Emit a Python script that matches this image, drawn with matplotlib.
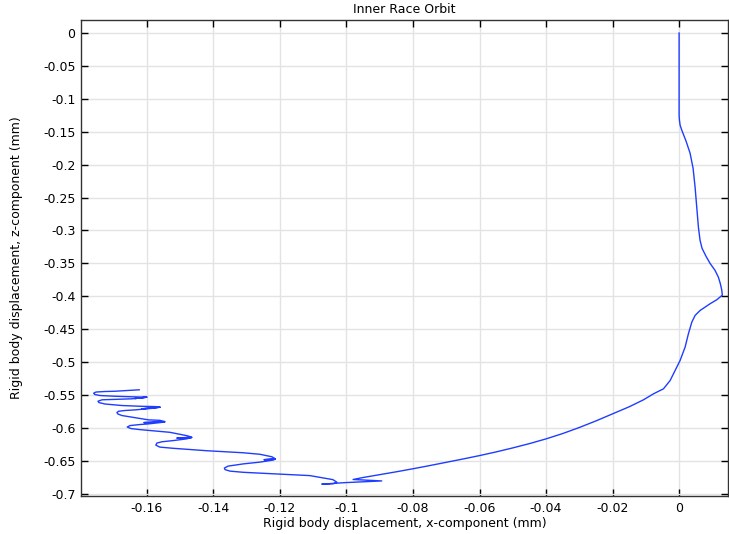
import matplotlib
matplotlib.use("Agg")
import matplotlib.pyplot as plt

plt.rcParams['font.family'] = ['DejaVu Sans']
plt.rcParams['axes.unicode_minus'] = False

title = "Inner Race Orbit"
x_label = "Rigid body displacement, x-component (mm)"
y_label = "Rigid body displacement, z-component (mm)"

x_ticks = [-0.16, -0.14, -0.12, -0.1, -0.08, -0.06, -0.04, -0.02, 0]
x_tick_labels = ["-0.16", "-0.14", "-0.12", "-0.1", "-0.08", "-0.06", "-0.04", "-0.02", "0"]
y_ticks = [0, -0.05, -0.1, -0.15, -0.2, -0.25, -0.3, -0.35, -0.4, -0.45, -0.5, -0.55, -0.6, -0.65, -0.7]
y_tick_labels = ["0", "-0.05", "-0.1", "-0.15", "-0.2", "-0.25", "-0.3", "-0.35", "-0.4",
                 "-0.45", "-0.5", "-0.55", "-0.6", "-0.65", "-0.7"]

# orbit of the inner race (x, z displacement in mm) in time order
orbit_x = [0, 0, 0, 0.0001, 0.0003, 0.0008, 0.0021, 0.0033, 0.0042, 0.0048, 0.0054, 0.0058,
           0.0063, 0.0069, 0.0081, 0.0093, 0.0108, 0.0118, 0.0124, 0.0128, 0.0130, 0.0121,
           0.01134, 0.00932, 0.00632, 0.00481, 0.00382, 0.0028, 0.0018, 0.0003, -0.0012,
           -0.0027, -0.0047, -0.0077, -0.0107, -0.015, -0.020, -0.025, -0.030, -0.035,
           -0.040, -0.045, -0.050, -0.055, -0.060, -0.065, -0.070, -0.075, -0.080, -0.085,
           -0.090, -0.095, -0.098,
           -0.0894, -0.1005, -0.1074, -0.1038, -0.1029, -0.1041, -0.1110, -0.1209, -0.1310,
           -0.1350, -0.1365, -0.1367, -0.1356, -0.1310, -0.1260, -0.1220, -0.1214, -0.1248,
           -0.1214, -0.1224, -0.1260, -0.1310, -0.1420, -0.1521, -0.1561, -0.1573, -0.1570,
           -0.1555, -0.1521, -0.1481, -0.1465, -0.1510, -0.1465, -0.1481, -0.1531, -0.1621,
           -0.1648, -0.1659, -0.1651, -0.1621, -0.1595, -0.1546, -0.1609, -0.1546, -0.1561,
           -0.1595, -0.1675, -0.1687, -0.1690, -0.1685, -0.1666, -0.1635, -0.1591, -0.1560,
           -0.1615, -0.1561, -0.1576, -0.1615, -0.1675, -0.1726, -0.1744, -0.1747, -0.1735,
           -0.1696, -0.1645, -0.1600, -0.1636, -0.1600, -0.1621, -0.1696, -0.1741, -0.1756,
           -0.1760, -0.1753, -0.1726, -0.1696, -0.1623]
orbit_z = [0, -0.102, -0.125, -0.1324, -0.140, -0.1476, -0.1644, -0.1826, -0.2054, -0.2339,
           -0.2694, -0.2948, -0.315, -0.3272, -0.3394, -0.350, -0.3607, -0.3709, -0.381,
           -0.390, -0.3983, -0.4022,
           -0.4053, -0.4114, -0.4216, -0.4292, -0.4394, -0.457, -0.4774, -0.4976, -0.5129,
           -0.5281, -0.5407, -0.5483, -0.5574, -0.568, -0.5788, -0.5895, -0.5995, -0.6087,
           -0.6168, -0.6240, -0.6305, -0.6366, -0.6422, -0.6474, -0.6524, -0.6574, -0.6622,
           -0.6668, -0.6712, -0.6755, -0.6785,
           -0.6807, -0.6833, -0.6856, -0.6848, -0.6825, -0.6787, -0.6726, -0.6701, -0.6676,
           -0.6658, -0.6635, -0.6612, -0.6582, -0.6548, -0.6521, -0.6490, -0.6475, -0.6484,
           -0.6470, -0.6440, -0.6402, -0.6379, -0.6348, -0.6311, -0.6293, -0.6263, -0.6232,
           -0.6212, -0.6194, -0.6168, -0.6148, -0.6156, -0.6141, -0.6118, -0.6068, -0.6027,
           -0.6011, -0.5988, -0.5966, -0.5950, -0.5940, -0.5912, -0.5920, -0.5905, -0.5886,
           -0.5879, -0.5813, -0.5790, -0.5768, -0.5748, -0.5737, -0.5727, -0.5707, -0.5687,
           -0.5711, -0.5684, -0.5677, -0.5673, -0.5661, -0.5638, -0.5616, -0.5596, -0.5574,
           -0.5567, -0.5559, -0.5535, -0.5555, -0.5532, -0.5532, -0.5520, -0.5509, -0.5494,
           -0.5474, -0.5456, -0.5448, -0.5444, -0.5422]

fig = plt.figure(figsize=(7.29, 5.34), dpi=100)
ax = fig.add_axes([81/729, 1 - 496/534, (728 - 81)/729, (496 - 20)/534])

ax.plot(orbit_x, orbit_z, color='#1f3dff', linewidth=1.0, solid_joinstyle='round')

ax.set_xlim(-0.1798, 0.0147)
ax.set_ylim(-0.7036, 0.0198)
ax.set_xticks(x_ticks)
ax.set_xticklabels(x_tick_labels)
ax.set_yticks(y_ticks)
ax.set_yticklabels(y_tick_labels)

ax.grid(True, color='#e3e3e3', linewidth=1.0)
ax.set_axisbelow(True)
ax.tick_params(direction='in', length=5, width=1, top=True, right=True,
               labelsize=9, colors='black', pad=4)
for s in ax.spines.values():
    s.set_linewidth(1.0)
    s.set_color('#333333')

ax.set_title(title, fontsize=9, pad=5)
ax.set_xlabel(x_label, fontsize=9, labelpad=2)
ax.set_ylabel(y_label, fontsize=9, labelpad=14)

fig.savefig("out.png", dpi=100)
